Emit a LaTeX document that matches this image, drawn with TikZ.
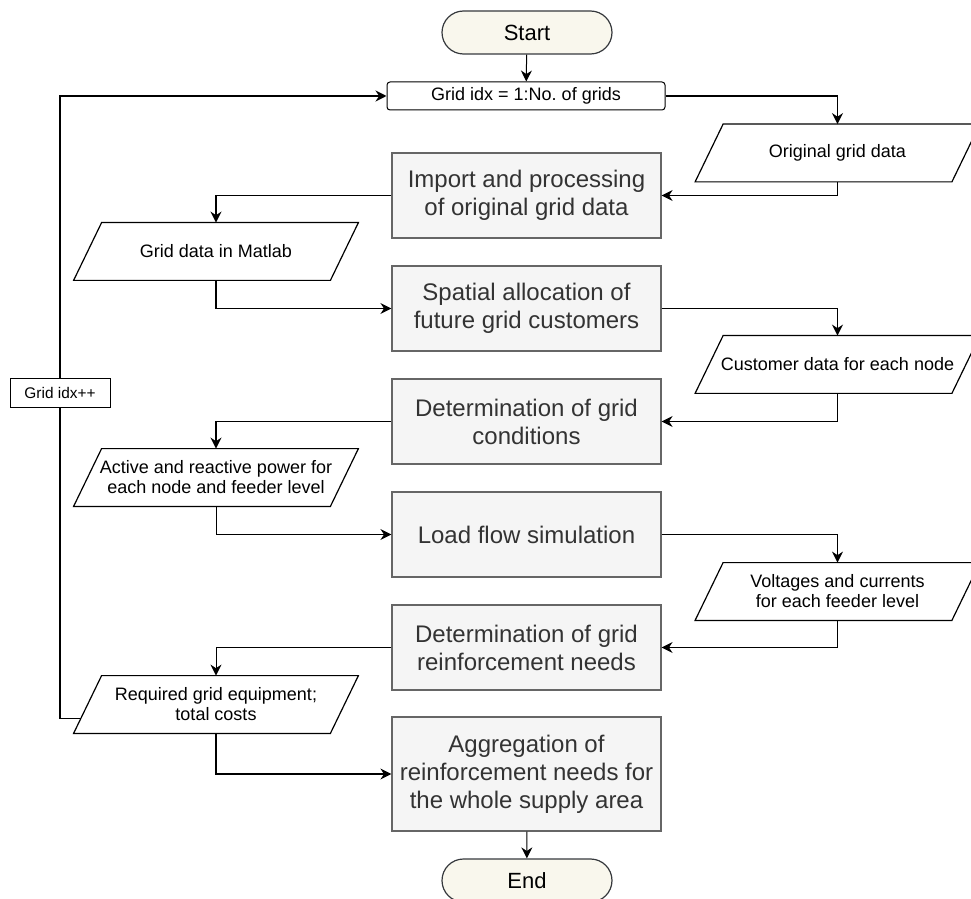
\documentclass[tikz,border=0pt]{standalone}
\usepackage{fontspec}
\setmainfont{Liberation Sans}
\frenchspacing
\usetikzlibrary{arrows.meta,calc}
\definecolor{boxfill}{HTML}{F5F5F5}
\definecolor{boxline}{HTML}{666666}
\definecolor{boxtext}{HTML}{333333}
\definecolor{termfill}{HTML}{F9F7ED}
\definecolor{termline}{HTML}{36393D}
\tikzset{
  procbox/.style={rectangle, draw=boxline, fill=boxfill, line width=0.6pt, text=boxtext,
    minimum width=134.5pt, minimum height=42.5pt, inner sep=0pt, align=center,
    font=\fontsize{12}{14}\selectfont},
  databox/.style={rectangle, minimum width=142pt, minimum height=28.5pt, inner sep=0pt,
    align=center, font=\fontsize{9}{10}\selectfont},
  termbox/.style={rectangle, rounded corners=10.75pt, draw=termline, fill=termfill,
    line width=0.6pt, minimum width=85pt, minimum height=21.5pt, inner sep=0pt,
    font=\fontsize{11}{13}\selectfont},
  loopbox/.style={rectangle, rounded corners=1.5pt, draw, line width=0.5pt,
    minimum width=139pt, minimum height=14pt, inner sep=0pt, font=\fontsize{9}{10}\selectfont},
  countbox/.style={rectangle, draw, fill=white, line width=0.5pt, minimum width=50pt,
    minimum height=14pt, inner sep=0pt, font=\fontsize{7.7}{9}\selectfont},
  flowline/.style={line width=0.5pt, -{Stealth[length=5.5pt,width=5.5pt,inset=1.8pt]}},
  flowthick/.style={flowline, line width=0.85pt},
}
\begin{document}
\begin{tikzpicture}[x=0.5pt,y=-0.5pt]
% \clip (0,0) rectangle (971,899);
\useasboundingbox (0,0) rectangle (971,899);

% Marking start and loop head
\node [termbox] (start) at (527,32.5) {Start};
\node [loopbox] (loop) at (526,96) {Grid idx = 1:No. of grids};

% Marking data boxes
\node [databox] (orig) at (837.5,153) {Original grid data};
\node [databox] (matlab) at (216,251.5) {Grid data in Matlab};
\node [databox] (customer) at (837.5,364.5) {Customer data for each node};
\node [databox] (active) at (216,477.5) {Active and reactive power for\\each node and feeder level};
\node [databox] (voltages) at (837.5,591.5) {Voltages and currents\\for each feeder level};
\node [databox] (required) at (216,704.5) {Required grid equipment;\\total costs};
\foreach \n in {orig,matlab,customer,active,voltages,required}
  \draw [line width=0.6pt] (\n.south west) -- ([xshift=14pt]\n.north west)
    -- (\n.north east) -- ([xshift=-14pt]\n.south east) -- cycle;

% Marking process boxes
\node [procbox] (import) at (526.5,195.5) {Import and processing\\of original grid data};
\node [procbox] (spatial) at (526.5,308.5) {Spatial allocation of\\future grid customers};
\node [procbox] (detcond) at (526.5,421.5) {Determination of grid\\conditions};
\node [procbox] (loadflow) at (526.5,534.5) {Load flow simulation};
\node [procbox] (detreinf) at (526.5,647.5) {Determination of grid\\reinforcement needs};
\node [procbox, minimum height=57pt] (aggr) at (526.5,774) {Aggregation of\\reinforcement needs for\\the whole supply area};
\node [termbox] (end) at (527,880.5) {End};

% Drawing connectors
\draw [flowline] (start) -- (loop);
\draw [flowthick] (loop.east) -| (orig.north);
\draw [flowthick] (orig.south) |- (import.east);
\draw [flowthick] (import.west) -| (matlab.north);
\draw [flowthick] (matlab.south) |- (spatial.west);
\draw [flowthick] (spatial.east) -| (customer.north);
\draw [flowthick] (customer.south) |- (detcond.east);
\draw [flowthick] (detcond.west) -| (active.north);
\draw [flowline] (active.south) |- (loadflow.west);
\draw [flowline] (loadflow.east) -| (voltages.north);
\draw [flowline] (voltages.south) |- (detreinf.east);
\draw [flowline] (detreinf.west) -| (required.north);
\draw [flowthick] (required.south) |- (aggr.west);
\draw [flowline] (aggr) -- (end);

% Drawing loop back
\coordinate (back) at ($(required.south west)!0.26!(required.north west)+(3.6pt,0)$);
\node [countbox] (count) at (60,393) {Grid idx++};
\draw [flowthick, -] (back) -| (count.south);
\draw [flowthick] (count.north) |- (loop.west);
\end{tikzpicture}
\end{document}
